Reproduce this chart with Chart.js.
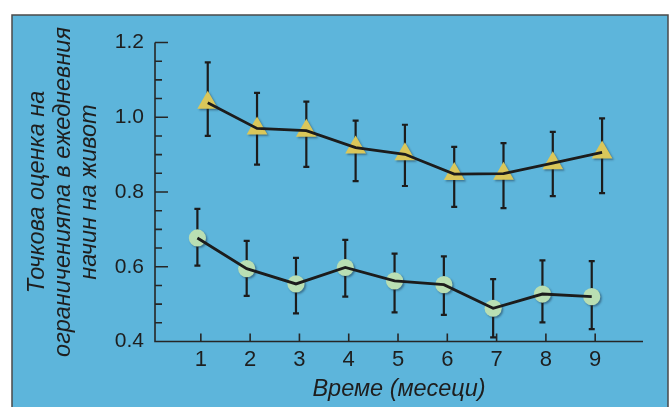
<!DOCTYPE html>
<html>
<head>
<meta charset="utf-8">
<script src="https://cdn.jsdelivr.net/npm/chart.js@4.4.1/dist/chart.umd.min.js"></script>
<style>
  html, body { margin: 0; padding: 0; background: #fff; }
  canvas { display: block; }
</style>
</head>
<body>
<canvas id="chart" width="672" height="407"></canvas>
<script>
// months on the x axis
var months = [1, 2, 3, 4, 5, 6, 7, 8, 9];
var yTicks = [0.4, 0.6, 0.8, 1.0, 1.2];

// upper group (triangles)
var triMean = [1.039, 0.970, 0.964, 0.919, 0.901, 0.848, 0.849, 0.877, 0.906];
var triHigh = [1.147, 1.065, 1.042, 0.991, 0.980, 0.921, 0.931, 0.961, 0.997];
var triLow  = [0.950, 0.873, 0.867, 0.829, 0.816, 0.760, 0.757, 0.789, 0.797];

// lower group (circles)
var circMean = [0.677, 0.595, 0.554, 0.598, 0.562, 0.552, 0.489, 0.527, 0.520];
var circHigh = [0.755, 0.669, 0.624, 0.672, 0.635, 0.628, 0.567, 0.617, 0.615];
var circLow  = [0.603, 0.522, 0.475, 0.520, 0.478, 0.471, 0.411, 0.451, 0.433];

var TRI_SHIFT = 0.14;   // the two groups are drawn slightly apart
var CIRC_SHIFT = -0.07;
var ink = '#1c1c1c';

function pts(vals, shift) {
   return vals.map(function (v, i) { return { x: months[i] + shift, y: v }; });
}

// background panel with the dark border
var panelPlugin = {
   id: 'panel',
   beforeDraw: function (chart) {
      var ctx = chart.ctx;
      ctx.save();
      ctx.fillStyle = '#ffffff';
      ctx.fillRect(0, 0, chart.width, chart.height);
      ctx.fillStyle = '#5db5db';
      ctx.fillRect(12, 15, 656, 400);
      ctx.strokeStyle = '#4a4a4a';
      ctx.lineWidth = 1.5;
      ctx.strokeRect(12, 15, 656, 400);
      ctx.restore();
   }
};

// error bars, behind lines and markers
var errorBarPlugin = {
   id: 'errbars',
   beforeDatasetsDraw: function (chart) {
      var ctx = chart.ctx;
      var xs = chart.scales.x, ys = chart.scales.y;
      var groups = [[triHigh, triLow, TRI_SHIFT], [circHigh, circLow, CIRC_SHIFT]];
      ctx.save();
      ctx.strokeStyle = ink;
      ctx.lineWidth = 2.2;
      groups.forEach(function (g) {
         months.forEach(function (m, i) {
            var x = xs.getPixelForValue(m + g[2]);
            var yh = ys.getPixelForValue(g[0][i]);
            var yl = ys.getPixelForValue(g[1][i]);
            ctx.beginPath();
            ctx.moveTo(x, yh); ctx.lineTo(x, yl);
            ctx.moveTo(x - 3, yh); ctx.lineTo(x + 3, yh);
            ctx.moveTo(x - 3, yl); ctx.lineTo(x + 3, yl);
            ctx.stroke();
         });
      });
      ctx.restore();
   }
};

// marker shadows
var shadowPlugin = {
   id: 'shadows',
   beforeDatasetDraw: function (chart, args) {
      if (!args.meta._dataset.shadow) return;
      var ctx = chart.ctx;
      ctx.save();
      ctx.shadowColor = 'rgba(20,40,60,0.45)';
      ctx.shadowBlur = 2;
      ctx.shadowOffsetX = 1.5;
      ctx.shadowOffsetY = 1.5;
   },
   afterDatasetDraw: function (chart, args) {
      if (!args.meta._dataset.shadow) return;
      chart.ctx.restore();
   }
};

// axis lines with ticks pointing inside
var axesPlugin = {
   id: 'axes',
   afterDatasetsDraw: function (chart) {
      var ctx = chart.ctx;
      var xs = chart.scales.x, ys = chart.scales.y;
      var left = chart.chartArea.left, bottom = chart.chartArea.bottom;
      ctx.save();
      ctx.strokeStyle = '#262626';
      ctx.lineWidth = 1.6;
      ctx.beginPath();
      ctx.moveTo(left, ys.getPixelForValue(1.2));
      ctx.lineTo(left, bottom);
      ctx.lineTo(chart.chartArea.right, bottom);
      for (var v = 0.45; v < 1.21; v += 0.05) {
         var y = ys.getPixelForValue(v);
         var major = Math.abs(v * 5 - Math.round(v * 5)) < 0.01;
         ctx.moveTo(left, y);
         ctx.lineTo(left + (major ? 13 : 7), y);
      }
      months.forEach(function (m) {
         var x = xs.getPixelForValue(m);
         ctx.moveTo(x, bottom);
         ctx.lineTo(x, bottom - 8);
      });
      ctx.stroke();
      ctx.restore();
   }
};

var ctx = document.getElementById('chart').getContext('2d');

var chart = new Chart(ctx, {
   type: 'line',
   data: {
      datasets: [
         { data: pts(triMean, TRI_SHIFT), borderColor: ink, borderWidth: 2.8, pointRadius: 0, tension: 0 },
         { data: pts(circMean, CIRC_SHIFT), borderColor: ink, borderWidth: 2.8, pointRadius: 0, tension: 0 },
         {
            data: pts(triMean, TRI_SHIFT), showLine: false, shadow: true,
            pointStyle: 'triangle', pointRadius: 12, borderWidth: 0,
            backgroundColor: '#dac75a', pointBorderColor: 'rgba(0,0,0,0)'
         },
         {
            data: pts(circMean, CIRC_SHIFT), showLine: false, shadow: true,
            pointStyle: 'circle', pointRadius: 8.6, borderWidth: 0,
            backgroundColor: '#b9dfb3', pointBorderColor: 'rgba(0,0,0,0)'
         }
      ]
   },
   options: {
      responsive: false,
      animation: false,
      devicePixelRatio: 1,
      layout: { padding: { left: 12, right: 29, top: 42.5, bottom: 0 } },
      plugins: { legend: { display: false }, tooltip: { enabled: false } },
      scales: {
         x: {
            type: 'linear',
            min: 0.07,
            max: 9.97,
            grid: { display: false, drawTicks: false },
            border: { display: false },
            afterBuildTicks: function (scale) {
               scale.ticks = months.map(function (m) { return { value: m }; });
            },
            afterFit: function (scale) { scale.height = 65.5; },
            ticks: {
               color: '#1e1e1e',
               padding: 5,
               maxRotation: 0,
               font: { family: '"Liberation Sans Narrow", "Liberation Sans", sans-serif', size: 22 }
            },
            title: {
               display: true,
               text: 'Време (месеци)',
               color: '#1e1e1e',
               padding: { top: 0, bottom: 3 },
               font: { family: '"Liberation Sans", Arial, sans-serif', size: 23.5, style: 'italic', lineHeight: 1.2 }
            }
         },
         y: {
            min: 0.4,
            max: 1.2,
            grid: { display: false, drawTicks: false },
            border: { display: false },
            afterBuildTicks: function (scale) {
               scale.ticks = yTicks.map(function (v) { return { value: v }; });
            },
            afterFit: function (scale) { scale.width = 143; },
            ticks: {
               color: '#1e1e1e',
               padding: 11,
               callback: function (v) { return v.toFixed(1); },
               font: { family: '"Liberation Sans Narrow", "Liberation Sans", sans-serif', size: 21 }
            },
            title: {
               display: true,
               text: ['Точкова оценка на', 'ограниченията в ежедневния', 'начин на живот'],
               color: '#1e1e1e',
               padding: { top: 12, bottom: 0 },
               font: { family: '"Liberation Sans", Arial, sans-serif', size: 23.5, style: 'italic', lineHeight: 1.11 }
            }
         }
      }
   },
   plugins: [panelPlugin, errorBarPlugin, shadowPlugin, axesPlugin]
});
</script>
</body>
</html>
